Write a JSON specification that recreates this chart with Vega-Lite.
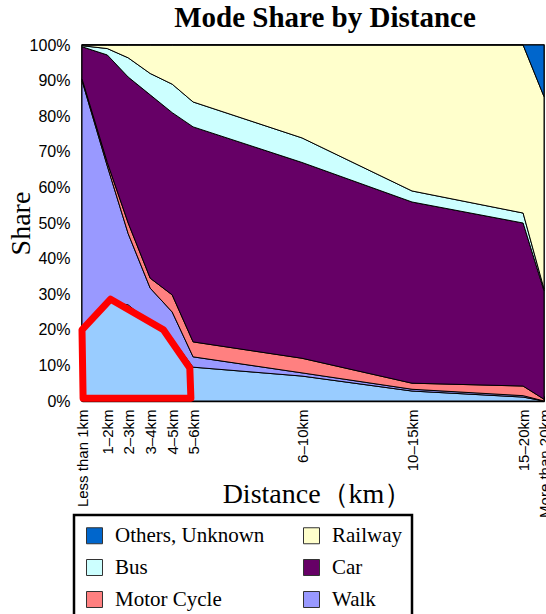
{
  "$schema": "https://vega.github.io/schema/vega-lite/v6.json",
  "width": 462,
  "height": 356,
  "autosize": {"type": "none"},
  "padding": {"left": 82, "top": 45, "right": 2, "bottom": 213},
  "background": "white",
  "title": {"text": "Mode Share by Distance", "font": "Liberation Serif", "fontSize": 29, "fontWeight": "bold", "color": "black", "anchor": "middle", "dx": 12, "offset": 4},
  "config": {
    "view": {"stroke": "black", "strokeWidth": 1.5},
    "axis": {"domainColor": "black", "domainWidth": 1.5, "tickColor": "black", "grid": false, "labelColor": "black", "titleColor": "black", "titleFontWeight": "normal", "labelOverlap": false, "labelFlush": false, "zindex": 1},
    "legend": {"strokeWidth": 2.5}
  },
  "encoding": {
    "x": {
      "field": "pos", "type": "quantitative",
      "scale": {"domain": [0, 21], "nice": false, "zero": false},
      "axis": {
        "title": "Distance（km）",
        "titleFont": "Liberation Serif", "titleFontSize": 28,
        "titleX": 235, "titleY": 101, "titleBaseline": "alphabetic", "titleAlign": "center",
        "values": [0, 1.15, 2.1, 3.1, 4.1, 5.05, 6, 7, 8, 9, 10, 11, 12, 13, 14, 15, 16, 17, 18, 19, 20.05, 21],
        "labelExpr": "datum.value == 0 ? 'Less than 1km' : datum.value == 1.15 ? '1–2km' : datum.value == 2.1 ? '2–3km' : datum.value == 3.1 ? '3–4km' : datum.value == 4.1 ? '4–5km' : datum.value == 5.05 ? '5–6km' : datum.value == 10 ? '6–10km' : datum.value == 15 ? '10–15km' : datum.value == 20.05 ? '15–20km' : datum.value == 21 ? 'More than 20km' : ''",
        "labelAngle": 270, "labelAlign": "right", "labelBaseline": "middle",
        "labelFont": "Liberation Sans", "labelFontSize": 15,
        "labelOverlap": false, "labelFlush": false, "labelPadding": 13,
        "tickSize": -5
      }
    },
    "y": {
      "field": "share", "type": "quantitative",
      "scale": {"domain": [0, 100], "nice": false},
      "axis": {
        "title": "Share",
        "titleFont": "Liberation Serif", "titleFontSize": 28,
        "titleX": -53, "titleY": 178, "titleAlign": "center", "titleBaseline": "alphabetic", "titleAngle": 270,
        "values": [0, 10, 20, 30, 40, 50, 60, 70, 80, 90, 100],
        "labelExpr": "datum.value + '%'",
        "labelFont": "Liberation Sans", "labelFontSize": 16,
        "labelPadding": 17, "labelOverlap": false,
        "tickSize": -5
      }
    }
  },
  "layer": [
    {
      "data": {"values": [
        {"pos": 0, "mode": "Bicycle", "rank": 1, "share": 20},
        {"pos": 0, "mode": "Walk", "rank": 2, "share": 70},
        {"pos": 0, "mode": "Motor Cycle", "rank": 3, "share": 0.5},
        {"pos": 0, "mode": "Car", "rank": 4, "share": 9},
        {"pos": 0, "mode": "Bus", "rank": 5, "share": 0.3},
        {"pos": 0, "mode": "Railway", "rank": 6, "share": 0.2},
        {"pos": 0, "mode": "Others, Unknown", "rank": 7, "share": 0},
        {"pos": 1.15, "mode": "Bicycle", "rank": 1, "share": 28},
        {"pos": 1.15, "mode": "Walk", "rank": 2, "share": 38},
        {"pos": 1.15, "mode": "Motor Cycle", "rank": 3, "share": 1},
        {"pos": 1.15, "mode": "Car", "rank": 4, "share": 30.2},
        {"pos": 1.15, "mode": "Bus", "rank": 5, "share": 1.8},
        {"pos": 1.15, "mode": "Railway", "rank": 6, "share": 1},
        {"pos": 1.15, "mode": "Others, Unknown", "rank": 7, "share": 0},
        {"pos": 2.1, "mode": "Bicycle", "rank": 1, "share": 27},
        {"pos": 2.1, "mode": "Walk", "rank": 2, "share": 20},
        {"pos": 2.1, "mode": "Motor Cycle", "rank": 3, "share": 3},
        {"pos": 2.1, "mode": "Car", "rank": 4, "share": 41},
        {"pos": 2.1, "mode": "Bus", "rank": 5, "share": 5.4},
        {"pos": 2.1, "mode": "Railway", "rank": 6, "share": 3.6},
        {"pos": 2.1, "mode": "Others, Unknown", "rank": 7, "share": 0},
        {"pos": 3.1, "mode": "Bicycle", "rank": 1, "share": 22},
        {"pos": 3.1, "mode": "Walk", "rank": 2, "share": 9.7},
        {"pos": 3.1, "mode": "Motor Cycle", "rank": 3, "share": 2.8},
        {"pos": 3.1, "mode": "Car", "rank": 4, "share": 51.5},
        {"pos": 3.1, "mode": "Bus", "rank": 5, "share": 6},
        {"pos": 3.1, "mode": "Railway", "rank": 6, "share": 8},
        {"pos": 3.1, "mode": "Others, Unknown", "rank": 7, "share": 0},
        {"pos": 4.1, "mode": "Bicycle", "rank": 1, "share": 17.5},
        {"pos": 4.1, "mode": "Walk", "rank": 2, "share": 7.5},
        {"pos": 4.1, "mode": "Motor Cycle", "rank": 3, "share": 4.8},
        {"pos": 4.1, "mode": "Car", "rank": 4, "share": 51.2},
        {"pos": 4.1, "mode": "Bus", "rank": 5, "share": 8},
        {"pos": 4.1, "mode": "Railway", "rank": 6, "share": 11},
        {"pos": 4.1, "mode": "Others, Unknown", "rank": 7, "share": 0},
        {"pos": 5.05, "mode": "Bicycle", "rank": 1, "share": 9.5},
        {"pos": 5.05, "mode": "Walk", "rank": 2, "share": 2.9},
        {"pos": 5.05, "mode": "Motor Cycle", "rank": 3, "share": 4.2},
        {"pos": 5.05, "mode": "Car", "rank": 4, "share": 60.4},
        {"pos": 5.05, "mode": "Bus", "rank": 5, "share": 7},
        {"pos": 5.05, "mode": "Railway", "rank": 6, "share": 16},
        {"pos": 5.05, "mode": "Others, Unknown", "rank": 7, "share": 0},
        {"pos": 10, "mode": "Bicycle", "rank": 1, "share": 7},
        {"pos": 10, "mode": "Walk", "rank": 2, "share": 0.9},
        {"pos": 10, "mode": "Motor Cycle", "rank": 3, "share": 4.1},
        {"pos": 10, "mode": "Car", "rank": 4, "share": 55},
        {"pos": 10, "mode": "Bus", "rank": 5, "share": 6.9},
        {"pos": 10, "mode": "Railway", "rank": 6, "share": 26.1},
        {"pos": 10, "mode": "Others, Unknown", "rank": 7, "share": 0},
        {"pos": 15, "mode": "Bicycle", "rank": 1, "share": 2.8},
        {"pos": 15, "mode": "Walk", "rank": 2, "share": 0.5},
        {"pos": 15, "mode": "Motor Cycle", "rank": 3, "share": 1.7},
        {"pos": 15, "mode": "Car", "rank": 4, "share": 50.9},
        {"pos": 15, "mode": "Bus", "rank": 5, "share": 3.1},
        {"pos": 15, "mode": "Railway", "rank": 6, "share": 41},
        {"pos": 15, "mode": "Others, Unknown", "rank": 7, "share": 0},
        {"pos": 20.05, "mode": "Bicycle", "rank": 1, "share": 1.1},
        {"pos": 20.05, "mode": "Walk", "rank": 2, "share": 0.4},
        {"pos": 20.05, "mode": "Motor Cycle", "rank": 3, "share": 2.7},
        {"pos": 20.05, "mode": "Car", "rank": 4, "share": 45.8},
        {"pos": 20.05, "mode": "Bus", "rank": 5, "share": 2.8},
        {"pos": 20.05, "mode": "Railway", "rank": 6, "share": 47.2},
        {"pos": 20.05, "mode": "Others, Unknown", "rank": 7, "share": 0},
        {"pos": 21, "mode": "Bicycle", "rank": 1, "share": 0},
        {"pos": 21, "mode": "Walk", "rank": 2, "share": 0},
        {"pos": 21, "mode": "Motor Cycle", "rank": 3, "share": 0.5},
        {"pos": 21, "mode": "Car", "rank": 4, "share": 30.5},
        {"pos": 21, "mode": "Bus", "rank": 5, "share": 0.5},
        {"pos": 21, "mode": "Railway", "rank": 6, "share": 54},
        {"pos": 21, "mode": "Others, Unknown", "rank": 7, "share": 14.5}
      ]},
      "mark": {"type": "area", "stroke": "black", "strokeWidth": 1, "opacity": 1},
      "encoding": {
        "color": {
          "field": "mode", "type": "nominal",
          "scale": {
            "domain": ["Others, Unknown", "Railway", "Bus", "Car", "Motor Cycle", "Walk", "Bicycle"],
            "range": ["#0066cc", "#ffffcc", "#ccffff", "#660066", "#ff8080", "#9999ff", "#99ccff"]
          },
          "legend": {
            "values": ["Others, Unknown", "Railway", "Bus", "Car", "Motor Cycle", "Walk"],
            "orient": "none", "legendX": -8, "legendY": 470,
            "direction": "horizontal",
            "columns": 2, "title": null,
            "symbolType": "square", "symbolSize": 256,
            "symbolStrokeColor": "#333333", "symbolStrokeWidth": 1,
            "labelFont": "Liberation Serif", "labelFontSize": 21, "labelColor": "black",
            "labelLimit": 300, "labelOffset": 10,
            "rowPadding": 10, "columnPadding": 36,
            "strokeColor": "black", "fillColor": "white", "padding": 10
          }
        },
        "order": {"field": "rank", "type": "quantitative"}
      }
    },
    {
      "data": {"values": [
        {"seq": 1, "pos": 0.05, "share": 0.8},
        {"seq": 2, "pos": 0, "share": 20},
        {"seq": 3, "pos": 1.3, "share": 28.6},
        {"seq": 4, "pos": 3.7, "share": 20},
        {"seq": 5, "pos": 4.9, "share": 9.3},
        {"seq": 6, "pos": 4.95, "share": 0.8},
        {"seq": 7, "pos": 0.05, "share": 0.8}
      ]},
      "mark": {"type": "line", "color": "#ff0000", "strokeWidth": 7, "strokeJoin": "round", "strokeCap": "round", "clip": false},
      "encoding": {
        "order": {"field": "seq", "type": "quantitative"}
      }
    }
  ]
}
